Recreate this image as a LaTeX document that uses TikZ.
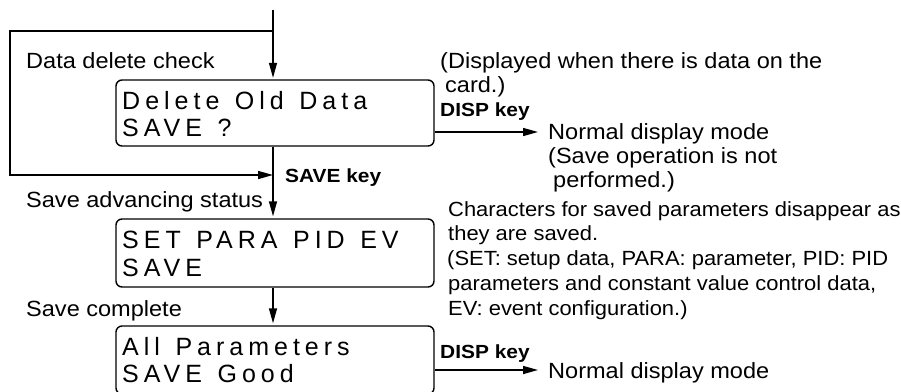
\documentclass[tikz,border=0pt]{standalone}
\usepackage{fontspec}
\setmainfont{Liberation Sans}
\newfontfamily\labfont{Liberation Sans}[FakeStretch=1.07]
\newfontfamily\keyfont{Liberation Sans}[FakeStretch=1.1]
\newfontfamily\lcdfont{Liberation Sans}[LetterSpace=20,WordSpace=1.3]
\usetikzlibrary{arrows.meta}
\tikzset{
  lbl/.style={anchor=base west, inner sep=0pt, font=\labfont\fontsize{22}{26}\selectfont},
  note/.style={anchor=base west, inner sep=0pt, font=\labfont\fontsize{20.5}{24}\selectfont},
  keylbl/.style={anchor=base west, inner sep=0pt, font=\keyfont\bfseries\fontsize{19}{22}\selectfont},
  lcd/.style={anchor=base west, inner sep=0pt, font=\lcdfont\fontsize{25}{28}\selectfont},
  panel/.style={draw, rounded corners=6pt, line width=1.4pt, minimum width=318pt, inner sep=0pt},
  arr/.style={line width=1.4pt, -{Triangle[length=15pt,width=8pt]}},
  conn/.style={line width=1.4pt}
}
\begin{document}
\begin{tikzpicture}[x=1pt,y=-1pt]
\useasboundingbox (0,0) rectangle (901,391);
\clip (0,0) rectangle (901,391);
% panels
\node[panel, minimum height=66pt] (box1) at (275,113) {};
\node[panel, minimum height=68pt] (box2) at (275,253) {};
\node[panel, minimum height=68pt] (box3) at (275,360) {};
% panel texts
\node[lcd] (t1a) at (122,109) {Delete Old Data};
\node[lcd] (t1b) at (122,136.5) {SAVE ?};
\node[lcd] (t2a) at (122,248) {SET PARA PID EV};
\node[lcd] (t2b) at (122,276.5) {SAVE};
\node[lcd] (t3a) at (122,355) {All Parameters};
\node[lcd] (t3b) at (122,382.5) {SAVE Good};
% coordinates
\coordinate (top) at (273,10);
\coordinate (lt) at (10,31);
\coordinate (lb) at (10,175);
\coordinate (e1) at (538,132);
\coordinate (e2) at (538,370);
% connectors
\draw[arr, shorten >=1.5pt] (top) -- (top |- box1.north);
\draw[arr] (top |- lt) -- (lt) -- (lb) -- (lb -| top);
\draw[arr, shorten >=2pt] (box1.south -| top) -- (box2.north -| top);
\draw[arr, shorten >=2pt] (box2.south -| top) -- (box3.north -| top);
\draw[arr] (box1.east |- e1) -- (e1);
\draw[arr] (box3.east |- e2) -- (e2);
% labels
\node[lbl] (l1) at (26,68) {Data delete check};
\node[lbl] (l2) at (26,207) {Save advancing status};
\node[lbl] (l3) at (26,316) {Save complete};
\node[keylbl] (k1) at (285,182) {SAVE key};
\node[lbl] (d1) at (440,68) {(Displayed when there is data on the};
\node[lbl] (d2) at (445,92) {card.)};
\node[keylbl] (k2) at (440,116) {DISP key};
\node[lbl] (n1) at (548,139) {Normal display mode};
\node[lbl] (n2) at (548,163) {(Save operation is not};
\node[lbl] (n3) at (553,187) {performed.)};
\node[note] (c1) at (448,216) {Characters for saved parameters disappear as};
\node[note] (c2) at (448,240.75) {they are saved.};
\node[note] (c3) at (447,265.5) {(SET: setup data, PARA: parameter, PID: PID};
\node[note] (c4) at (448,290.25) {parameters and constant value control data,};
\node[note] (c5) at (448,315) {EV: event configuration.)};
\node[keylbl] (k3) at (440,358) {DISP key};
\node[lbl] (n4) at (548,378) {Normal display mode};
\end{tikzpicture}
\end{document}
